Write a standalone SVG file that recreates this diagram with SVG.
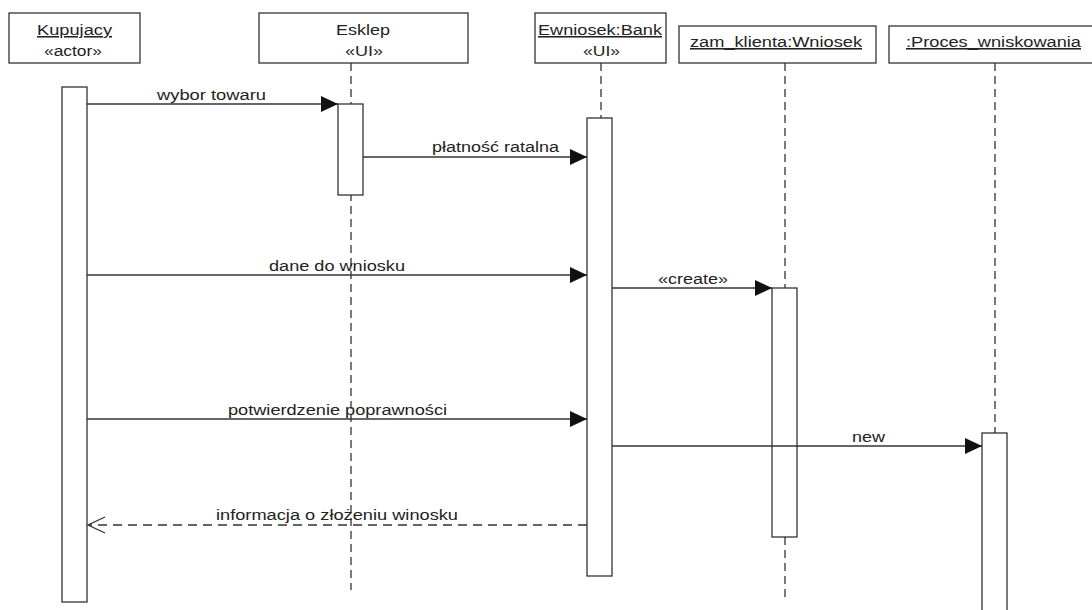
<svg xmlns="http://www.w3.org/2000/svg" width="1092" height="610" viewBox="0 0 1092 610">
  <style>
    .box { fill: #fff; stroke: #333; stroke-width: 1.3; }
    .act { fill: #fff; stroke: #333; stroke-width: 1.3; }
    .life { stroke: #333; stroke-width: 1.3; stroke-dasharray: 8 5; fill: none; }
    .msg { stroke: #333; stroke-width: 1.3; fill: none; }
    .ret { stroke: #333; stroke-width: 1.3; fill: none; stroke-dasharray: 9 6; }
    .open { stroke: #333; stroke-width: 1.3; fill: none; }
    text { font-family: "Liberation Sans", Arial, sans-serif; font-size: 15.5px; fill: #222; }
    .u { text-decoration: underline; }
  </style>
  <defs>
    <marker id="filled" markerUnits="userSpaceOnUse" markerWidth="18" markerHeight="16" refX="17" refY="8" orient="auto">
      <path d="M0,0 L17,8 L0,16 Z" fill="#111"/>
    </marker>
  </defs>
  <rect width="1092" height="610" fill="#fff"/>

  <!-- lifelines -->
  <g id="lifelines">
    <line class="life" x1="351" y1="63" x2="351" y2="590"/>
    <line class="life" x1="601" y1="63" x2="601" y2="118"/>
    <line class="life" x1="785" y1="63" x2="785" y2="288"/>
    <line class="life" x1="785" y1="537" x2="785" y2="600"/>
    <line class="life" x1="995" y1="63" x2="995" y2="433"/>
  </g>

  <g id="kupujacy">
    <rect class="box" x="9" y="13" width="131" height="50"/>
    <text x="37" y="35" class="u" textLength="75" lengthAdjust="spacingAndGlyphs">Kupujacy</text>
    <text x="44" y="56" textLength="58" lengthAdjust="spacingAndGlyphs">«actor»</text>
    <rect class="act" x="62" y="87" width="25" height="515"/>
  </g>

  <g id="esklep">
    <rect class="box" x="259" y="13" width="209" height="50"/>
    <text x="336" y="35" textLength="54" lengthAdjust="spacingAndGlyphs">Esklep</text>
    <text x="345" y="56" textLength="38" lengthAdjust="spacingAndGlyphs">«UI»</text>
    <rect class="act" x="338" y="104" width="25" height="91"/>
  </g>

  <g id="ewniosek-bank">
    <rect class="box" x="535" y="13" width="131" height="50"/>
    <text x="538" y="35" class="u" textLength="124" lengthAdjust="spacingAndGlyphs">Ewniosek:Bank</text>
    <text x="583" y="56" textLength="37" lengthAdjust="spacingAndGlyphs">«UI»</text>
    <rect class="act" x="587" y="118" width="25" height="458"/>
  </g>

  <g id="zam-klienta">
    <rect class="box" x="679" y="26" width="197" height="37"/>
    <text x="690" y="47" class="u" textLength="172" lengthAdjust="spacingAndGlyphs">zam_klienta:Wniosek</text>
    <rect class="act" x="772" y="288" width="25" height="249"/>
  </g>

  <g id="proces-wniskowania">
    <rect class="box" x="889" y="26" width="212" height="37"/>
    <text x="906" y="47" class="u" textLength="175" lengthAdjust="spacingAndGlyphs">:Proces_wniskowania</text>
    <rect class="act" x="982" y="433" width="25" height="190"/>
  </g>

  <!-- messages -->
  <g id="connectors">
    <line class="msg" x1="87" y1="104" x2="338" y2="104" marker-end="url(#filled)"/>
    <text x="157" y="100" textLength="109" lengthAdjust="spacingAndGlyphs">wybor towaru</text>

    <line class="msg" x1="363" y1="157" x2="587" y2="157" marker-end="url(#filled)"/>
    <text x="432" y="152" textLength="127" lengthAdjust="spacingAndGlyphs">płatność ratalna</text>

    <line class="msg" x1="87" y1="275" x2="587" y2="275" marker-end="url(#filled)"/>
    <text x="269" y="271" textLength="136" lengthAdjust="spacingAndGlyphs">dane do wniosku</text>

    <line class="msg" x1="612" y1="288" x2="772" y2="288" marker-end="url(#filled)"/>
    <text x="658" y="284" textLength="70" lengthAdjust="spacingAndGlyphs">«create»</text>

    <line class="msg" x1="87" y1="419" x2="587" y2="419" marker-end="url(#filled)"/>
    <text x="228" y="415" textLength="219" lengthAdjust="spacingAndGlyphs">potwierdzenie poprawności</text>

    <line class="msg" x1="612" y1="446" x2="982" y2="446" marker-end="url(#filled)"/>
    <text x="852" y="442" textLength="33" lengthAdjust="spacingAndGlyphs">new</text>

    <line class="ret" x1="587" y1="525" x2="88" y2="525"/>
    <polyline class="open" points="105,517 88,525 105,533"/>
    <text x="216" y="520" textLength="242" lengthAdjust="spacingAndGlyphs">informacja o złożeniu winosku</text>
  </g>
</svg>
